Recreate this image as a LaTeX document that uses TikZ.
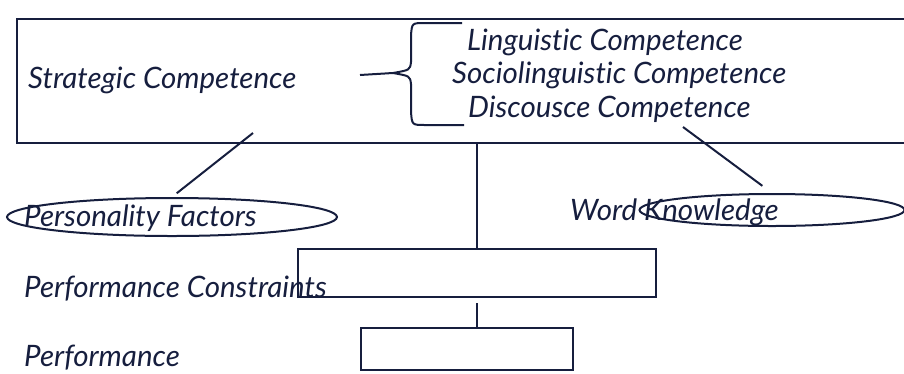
\documentclass[tikz,border=0pt]{standalone}
\usepackage{fontspec}
\setmainfont{Lato}[Ligatures=NoCommon]
\usetikzlibrary{shapes.geometric, positioning, calc}
\definecolor{ink}{RGB}{22,30,62}

\begin{document}
\begin{tikzpicture}[x=1pt, y=-1pt, color=ink, font=\fontsize{29.5}{34}\selectfont\itshape]
  % Define styles
  \tikzstyle{frame} = [rectangle, draw=ink, line width=2.2pt, inner sep=0pt]
  \tikzstyle{oval} = [ellipse, draw=ink, line width=2pt, inner sep=0pt]
  \tikzstyle{txt} = [text=ink, inner sep=0pt, anchor=base west]
  \tikzstyle{line} = [draw=ink, line width=2pt]

  \useasboundingbox (0,0) rectangle (904,373);

  % Place nodes
  \node [frame, anchor=north west, minimum width=910pt, minimum height=124pt] (outer) at (16,18) {};
  \node [txt] (strat) at (28,88) {Strategic Competence};
  \node [txt] (ling) at (467,50) {Linguistic Competence};
  \node [txt] (socio) at (452,83) {Sociolinguistic Competence};
  \node [txt] (disc) at (468,117) {Discousce Competence};
  \node [oval, minimum width=330pt, minimum height=38pt] (pers) at (172,217) {};
  \node [txt] (persText) at (24,226) {Personality Factors};
  \node [oval, minimum width=265pt, minimum height=32pt] (word) at (772,210) {};
  \node [txt] (wordText) at (570,220) {Word Knowledge};
  \node [frame, minimum width=358pt, minimum height=48pt] (cons) at (477,273) {};
  \node [txt] (consText) at (24,297) {Performance Constraints};
  \node [frame, minimum width=212pt, minimum height=42pt] (perf) at (467,349) {};
  \node [txt] (perfText) at (24,366) {Performance};
  \coordinate (tie) at (360,75);
  \coordinate (tip) at (393,73);
  \coordinate (persTie) at (253,133);
  \coordinate (wordTie) at (683,127);

  % Draw brace
  \path [line] (462,23) -- (425,23) .. controls (412,23) .. (411,35) -- (411,62)
    .. controls (410,70) .. (tip) .. controls (410,76) .. (411,84) -- (411,112)
    .. controls (412,125) .. (425,125) -- (464,125);

  % Draw edges
  \path [line] (tie) -- (tip);
  \path [line, shorten >=6pt] (persTie) -- (pers.north);
  \path [line, shorten >=12pt] (wordTie) -- (word.north);
  \path [line] (cons.north |- outer.south) -- (cons.north);
  \path [line] ([yshift=-5pt]cons.south) -- (cons.south |- perf.north);
\end{tikzpicture}
\end{document}
